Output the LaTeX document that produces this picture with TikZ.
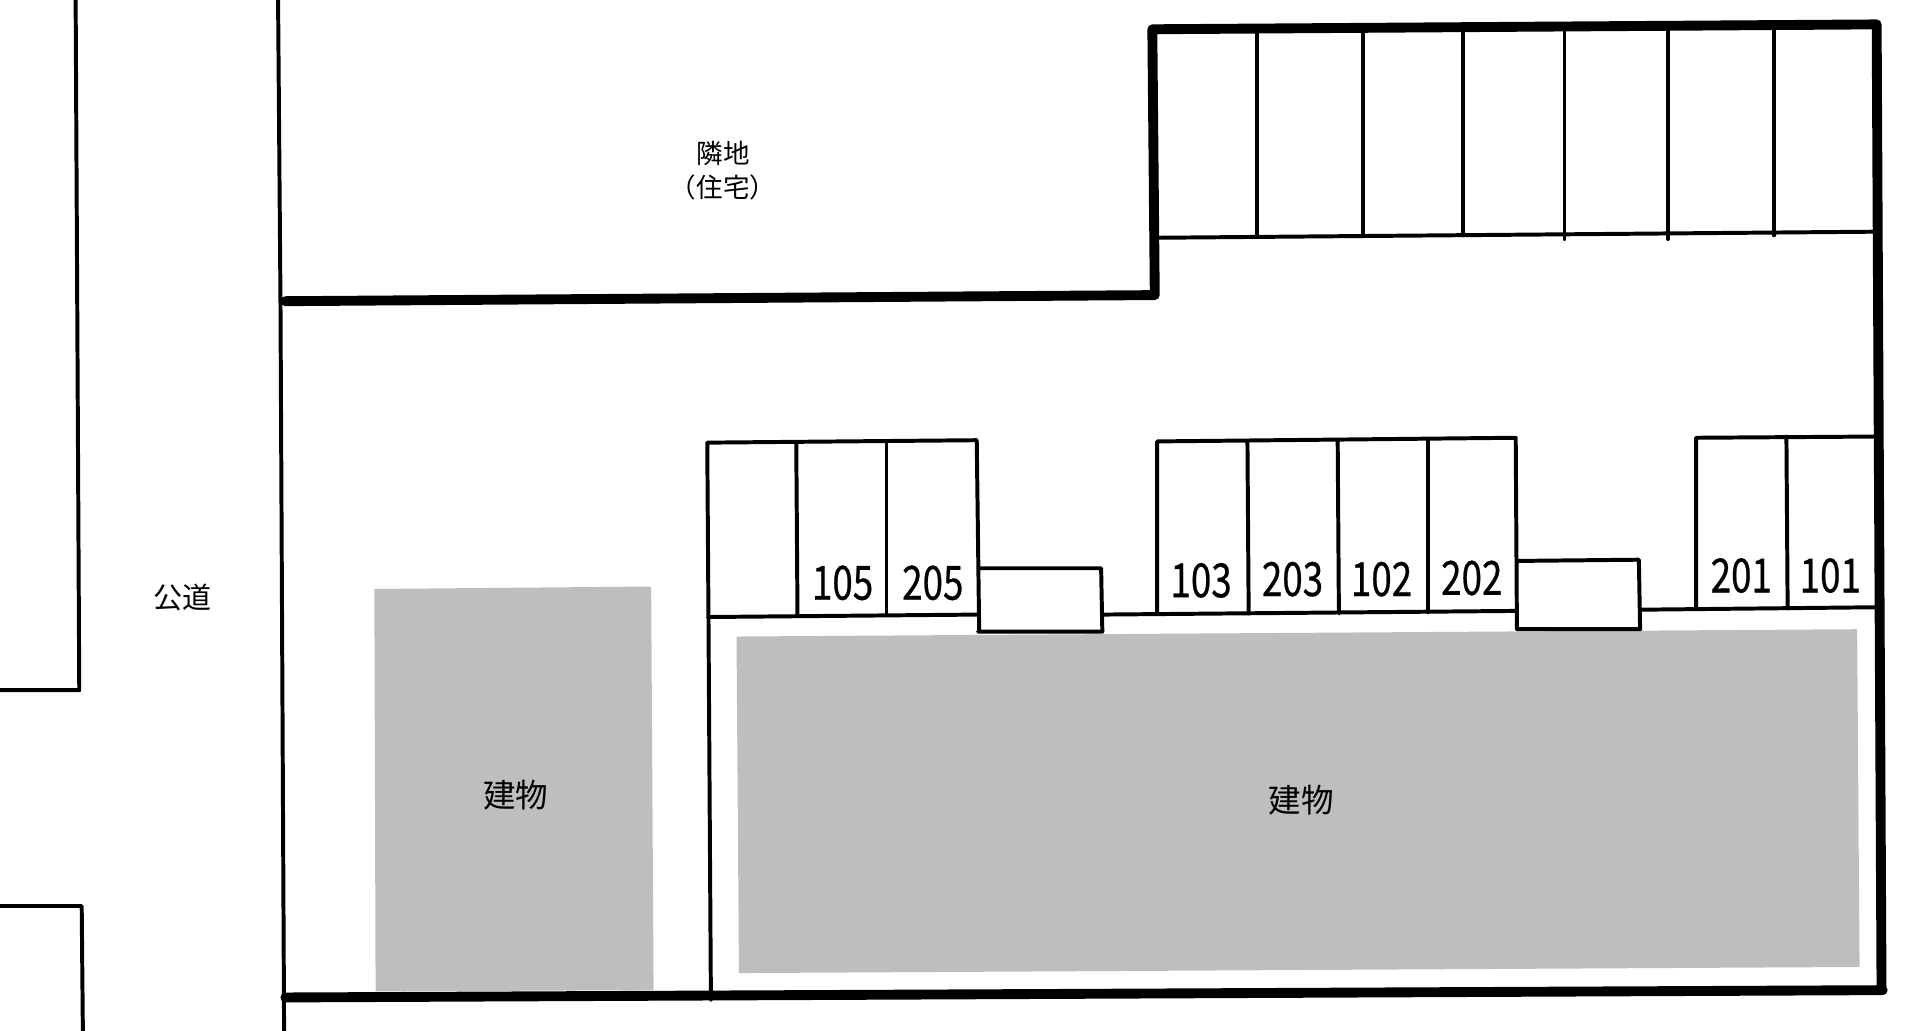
\documentclass[tikz,border=0pt]{standalone}
\usepackage{fontspec}
\setmainfont{Noto Sans CJK JP}
\newfontfamily\roomfont[FakeBold=0.6]{Noto Sans CJK JP}
\definecolor{bldggray}{HTML}{BEBEBE}
\tikzset{
  thinwall/.style={draw=black, line width=0.65mm, line cap=round, line join=round},
  thickwall/.style={draw=black, line width=1.62mm, line cap=round, line join=round},
  bldg/.style={fill=bldggray, draw=none},
  roomno/.style={font=\roomfont\fontsize{22}{22}\selectfont, inner sep=0pt},
  place/.style={inner sep=0pt, align=center}
}
\newcommand{\narrowno}[1]{\scalebox{0.78}[1]{#1}}

\begin{document}
\begin{tikzpicture}[x=0.02cm, y=-0.02cm]
\useasboundingbox (0,0) rectangle (1568,845);

% buildings
\fill[bldg] (307,483) -- (534,481) -- (536,812) -- (308,813) -- cycle;
\fill[bldg] (604,522) -- (1523,516) -- (1525,793) -- (606,798) -- cycle;

% road
\draw[thinwall] (62,-5) -- (65,566) -- (-5,566);
\draw[thinwall] (-5,743) -- (67,743) -- (68,850);
\draw[thinwall] (228,-5) -- (230,245) -- (233,850);

% site boundary
\draw[thickwall] (234,247) -- (947,242) -- (945,24) -- (1539,20) -- (1543,812);
\draw[thickwall] (234,818) -- (1544,812);

% top parking
\def\ytop{25}
\def\ybot{193}
\draw[thinwall] (947,195) -- (1538,190);
\draw[thinwall] (1031,\ytop) -- (1031,\ybot);
\draw[thinwall] (1118,\ytop) -- (1118,\ybot);
\draw[thinwall] (1200,\ytop) -- (1200,\ybot);
\draw[thinwall] (1283,\ytop) -- (1283,196);
\draw[thinwall] (1368,\ytop) -- (1368,196);
\draw[thinwall] (1455,\ytop) -- (1455,\ybot);

% left row
\draw[thinwall] (583,820) -- (581,506) -- (580,363) -- (801,361) -- (803,518);
\draw[thinwall] (581,506) -- (802,504);
\draw[thinwall] (653,363) -- (654,505);
\draw[thinwall] (727,363) -- (727,503);
\draw[thinwall] (803,466) -- (903,466) -- (904,518) -- (802,518);

% middle row
\draw[thinwall] (904,504) -- (1243,501);
\draw[thinwall] (949,503) -- (949,362) -- (1243,359) -- (1244,516);
\draw[thinwall] (1023,362) -- (1024,503);
\draw[thinwall] (1097,361) -- (1098,503);
\draw[thinwall] (1171,360) -- (1171,502);
\draw[thinwall] (1245,460) -- (1344,459) -- (1345,516) -- (1244,516);

% right row
\draw[thinwall] (1345,500) -- (1538,498);
\draw[thinwall] (1391,499) -- (1391,359) -- (1538,358);
\draw[thinwall] (1465,358) -- (1466,499);

% labels
\node[place, font=\fontsize{12.4}{15.8}\selectfont] (neighbour) at (593,140) {隣地\\（住宅）};
\node[place, font=\fontsize{13.6}{14}\selectfont] (road) at (150,490) {公道};
\node[place, font=\fontsize{15.2}{16}\selectfont] (bldga) at (423,652) {建物};
\node[place, font=\fontsize{15.2}{16}\selectfont] (bldgb) at (1067,656) {建物};

\node[roomno] (r105) at (691,478) {\narrowno{105}};
\node[roomno] (r205) at (765,478) {\narrowno{205}};
\node[roomno] (r103) at (985,476) {\narrowno{103}};
\node[roomno] (r203) at (1060,475) {\narrowno{203}};
\node[roomno] (r102) at (1133,475) {\narrowno{102}};
\node[roomno] (r202) at (1207,474) {\narrowno{202}};
\node[roomno] (r201) at (1428,472) {\narrowno{201}};
\node[roomno] (r101) at (1501,472) {\narrowno{101}};
\end{tikzpicture}
\end{document}
